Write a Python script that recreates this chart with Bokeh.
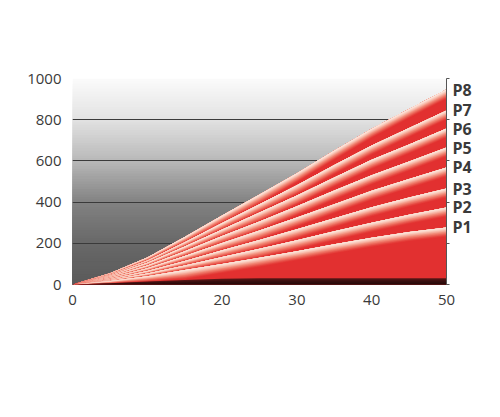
import numpy as np
from bokeh.plotting import figure
from bokeh.models import Range1d, LinearAxis, FixedTicker
from bokeh.embed import file_html
from bokeh.resources import INLINE

# ---- data ----
x_vals = [0, 5, 10, 15, 20, 25, 30, 35, 40, 45, 50]
base = [0, 6, 14, 22, 28, 30, 30, 30, 30, 30, 30]
p1 = [0, 17, 40, 70, 100, 130, 162, 195, 227, 255, 277]
p2 = [0, 22, 53, 92, 133, 174, 215, 258, 300, 339, 374]
p3 = [0, 27, 65, 114, 166, 216, 268, 322, 375, 422, 466]
p4 = [0, 33, 79, 138, 201, 262, 325, 390, 455, 512, 568]
p5 = [0, 39, 92, 161, 235, 306, 380, 456, 530, 597, 665]
p6 = [0, 44, 105, 184, 267, 350, 432, 520, 605, 680, 757]
p7 = [0, 49, 117, 205, 298, 390, 482, 580, 675, 760, 845]
p8 = [0, 55, 131, 230, 335, 437, 540, 650, 756, 852, 946]
series_names = ["P1", "P2", "P3", "P4", "P5", "P6", "P7", "P8"]
series_vals = [p1, p2, p3, p4, p5, p6, p7, p8]
x_ticks = [0, 10, 20, 30, 40, 50]
y_ticks = [0, 200, 400, 600, 800, 1000]

FONT = "Open Sans"
TXT = "#3a3a3a"

p = figure(width=484, height=401, x_range=Range1d(0, 50), y_range=Range1d(0, 1000),
           output_backend="svg", toolbar_location=None,
           min_border_left=72, min_border_right=38, min_border_top=78, min_border_bottom=117,
           background_fill_color="white", border_fill_color="white")
p.outline_line_color = None

def lerp_stops(stops, v):
    for (a, ca), (b, cb) in zip(stops[:-1], stops[1:]):
        if a <= v <= b:
            f = (v - a) / (b - a)
            return tuple(int(round(ca[i] + (cb[i] - ca[i]) * f)) for i in range(3))
    return stops[-1][1]

def hexc(c):
    return "#%02x%02x%02x" % c

# background vertical gradient (stacked from 0 so there are no seams)
bg_stops = [(0, (90, 90, 90)), (200, (104, 104, 104)), (400, (130, 130, 130)),
            (600, (184, 184, 184)), (800, (226, 226, 226)), (1000, (251, 251, 251))]
N = 80
tops = np.linspace(1000, 1000 / N, N)
bg_cols = [hexc(lerp_stops(bg_stops, t - 500 / N)) for t in tops]
p.quad(left=0, right=50, bottom=0, top=tops, fill_color=bg_cols,
       line_color=None, level="image")

# grid
p.xgrid.visible = False
p.ygrid.ticker = FixedTicker(ticks=y_ticks)
p.ygrid.grid_line_color = "#3a3a3a"
p.ygrid.grid_line_width = 1

# bands
hl_stops = [(0.0, (253, 236, 228)), (0.25, (249, 196, 180)), (0.55, (240, 130, 112)),
            (0.85, (230, 70, 64)), (1.0, (226, 48, 48))]
RED = "#e23030"
x = np.array(x_vals, dtype=float)
bounds = [np.array(base, float)] + [np.array(s, float) for s in series_vals]
M = 16
for k in range(len(bounds) - 1, 0, -1):
    U = bounds[k]
    L = bounds[k - 1]
    t = U - L
    h = np.minimum(t, 45.0)
    p.varea(x=x, y1=0, y2=U, fill_color=RED)
    for j in range(M - 1, -1, -1):
        col = hexc(lerp_stops(hl_stops, (j + 0.5) / M))
        p.varea(x=x, y1=U - h * (j + 1) / M, y2=U, fill_color=col)

# dark base band
b = np.array(base, float)
dark_stops = [(0.0, (38, 10, 10)), (0.6, (60, 16, 16)), (1.0, (95, 25, 25))]
K = 6
for j in range(K, 0, -1):
    col = hexc(lerp_stops(dark_stops, (j - 0.5) / K))
    p.varea(x=x, y1=0, y2=b * j / K, fill_color=col)

# axes
p.xaxis.ticker = FixedTicker(ticks=x_ticks)
p.yaxis.ticker = FixedTicker(ticks=y_ticks)
for ax in (p.xaxis[0], p.yaxis[0]):
    ax.axis_line_color = None
    ax.major_tick_line_color = None
    ax.minor_tick_line_color = None
    ax.major_label_text_font = FONT
    ax.major_label_text_font_size = "15px"
    ax.major_label_text_color = TXT
p.xaxis.major_label_standoff = 4
p.yaxis.major_label_standoff = 5

# right edge: line with small ticks
rax = LinearAxis(ticker=FixedTicker(ticks=y_ticks), axis_line_color="#555555",
                 major_tick_in=0, major_tick_out=3, major_tick_line_color="#555555",
                 minor_tick_line_color=None, major_label_standoff=0,
                 major_label_overrides={v: "" for v in y_ticks})
p.add_layout(rax, "right")

# series labels, as a right-hand axis placed at each series' end value
end_vals = [s[-1] for s in series_vals]
lax = LinearAxis(ticker=FixedTicker(ticks=end_vals), axis_line_color=None,
                 major_tick_in=0, major_tick_out=0,
                 major_tick_line_color=None, minor_tick_line_color=None,
                 major_label_overrides={v: n for v, n in zip(end_vals, series_names)},
                 major_label_standoff=3, major_label_text_font=FONT,
                 major_label_text_font_size="16px", major_label_text_font_style="bold",
                 major_label_text_color=TXT)
p.add_layout(lax, "right")

open("out.html", "w").write(file_html(p, INLINE))
